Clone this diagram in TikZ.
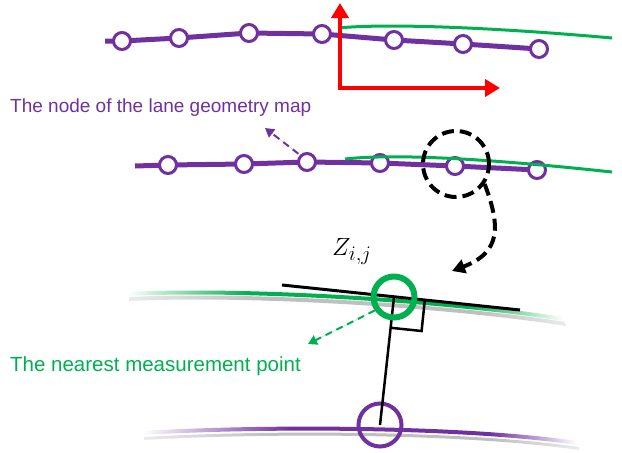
\documentclass[tikz,border=0pt]{standalone}
\usepackage{fontspec}
\setmainfont{Liberation Sans}
\usepackage{tikz}
\usetikzlibrary{positioning,arrows.meta,calc,backgrounds}
\definecolor{lanepurple}{RGB}{112,48,160}
\definecolor{lanegreen}{RGB}{0,176,80}
\definecolor{axisred}{RGB}{255,0,0}
\pgfdeclarehorizontalshading{greenfade}{100bp}{color(0bp)=(white); color(25bp)=(white);
    color(39bp)=(lanegreen); color(64bp)=(lanegreen); color(75bp)=(white); color(100bp)=(white)}
\pgfdeclarehorizontalshading{purplefade}{100bp}{color(0bp)=(white); color(25bp)=(white);
    color(42bp)=(lanepurple); color(65bp)=(lanepurple); color(75bp)=(white); color(100bp)=(white)}
\pgfdeclarehorizontalshading{shadowfade}{100bp}{color(0bp)=(white); color(25bp)=(black!8);
    color(40bp)=(black!25); color(65bp)=(black!25); color(75bp)=(black!8); color(100bp)=(white)}

\begin{document}
\begin{tikzpicture}[
    x=1pt, y=-1pt,
    lanenode/.style={circle, draw=lanepurple, fill=white, line width=3pt,
                     minimum size=17pt, inner sep=0pt},
    chain/.style={draw=lanepurple, line width=5pt},
    meas/.style={draw=lanegreen, line width=3pt},
    redaxis/.style={draw=axisred, line width=4.5pt,
                    {Triangle[length=15pt,width=17pt]}-{Triangle[length=15pt,width=17pt]}},
    zoomring/.style={circle, draw, line width=4pt, dash pattern=on 12pt off 6pt,
                     minimum size=66pt, inner sep=0pt},
    zoomarr/.style={line width=4pt, dash pattern=on 12pt off 6pt,
                    -{Triangle[length=13pt,width=14pt]}},
    hint/.style={line width=2pt, dash pattern=on 7pt off 5pt,
                 -{Triangle[length=9pt,width=10pt]}},
    lbl/.style={font=\fontsize{19}{22}\selectfont, anchor=base west, inner sep=0pt}
]
\useasboundingbox (0,0) rectangle (622,453);

% top lane: map nodes, measurement and vehicle axes
\coordinate (t0) at (105,41);
\foreach \i/\x/\y in {1/122/41, 2/179/38, 3/249/33, 4/322/34, 5/394/40, 6/463/44, 7/539/49}
    \node[lanenode] (t\i) at (\x,\y) {};
\begin{scope}[on background layer]
\draw[chain] (t0) foreach \i in {1,...,7} { -- (t\i.center) };
\end{scope}
\coordinate (tg0) at (338,28);
\coordinate (tg1) at (612,38);
\draw[meas] (tg0) .. controls (390,23) and (500,28) .. (tg1);
\coordinate (orig) at (340,88);
\coordinate (yax) at (340,3);
\coordinate (xax) at (500,88);
\draw[redaxis, line join=miter] (yax) -- (orig) -- (xax);

\node[lbl, text=lanepurple] (maplbl) at (10,112) {The node of the lane geometry map};

% middle lane
\coordinate (m0) at (135,166);
\foreach \i/\x/\y in {1/168/165, 2/244/164, 3/307/162, 4/380/163, 5/455/166, 6/537/170}
    \node[lanenode] (m\i) at (\x,\y) {};
\begin{scope}[on background layer]
\draw[chain] (m0) foreach \i in {1,...,6} { -- (m\i.center) };
\end{scope}
\coordinate (mg0) at (345,159);
\coordinate (mg1) at (612,172);
\draw[meas] (mg0) .. controls (400,153) and (500,160) .. (mg1);
\coordinate (maptip) at (265,128);
\draw[hint, draw=lanepurple, fill=lanepurple, shorten <=2pt] (m3.135) -- (maptip);

\node[zoomring] (ring) at (456,164) {};
\coordinate (ringtip) at (452,271);
\draw[zoomarr] (ring.-35) .. controls (500,225) and (502,252) .. (ringtip);

% zoomed view
\shade[shading=shadowfade]
    (129,297) .. controls (252,291) and (452,304) .. (565,322)
    -- (566,326) .. controls (452,308) and (252,295) .. (129,301) -- cycle;
\shade[shading=greenfade]
    (127,292) .. controls (250,286) and (450,299) .. (563,317)
    -- (563,321) .. controls (450,303) and (250,290) .. (127,296) -- cycle;
\shade[shading=shadowfade]
    (144,437) .. controls (262,430) and (462,430) .. (579,447)
    -- (579,450) .. controls (462,433) and (262,433) .. (144,440) -- cycle;
\shade[shading=purplefade]
    (142,431) .. controls (260,424) and (460,424) .. (577,441)
    -- (577,445) .. controls (460,428) and (260,428) .. (142,435) -- cycle;

\coordinate (tl) at (282,285);
\coordinate (tr) at (520,310);
\coordinate (foot) at (394,297);
\draw[line width=3pt] (tl) -- (tr);
\node[circle, draw=lanepurple, line width=4pt, minimum size=43pt, inner sep=0pt] (lp) at (380,425) {};
\draw[line width=2.5pt] (foot) -- (lp.center);
\draw[line width=2.5pt] ($(foot)+(30.8,3.2)$) -- ++(-3.2,30.8) -- ++(-30.8,-3.2);
\node[circle, draw=lanegreen, line width=6pt, minimum size=41pt, inner sep=0pt] (mp) at (foot) {};

\node[anchor=base west, inner sep=0pt, font=\fontsize{28}{30}\selectfont] (zlbl) at (332,255) {$Z_{i,j}$};

\coordinate (meastip) at (308,344);
\draw[hint, draw=lanegreen, fill=lanegreen] (mp.215) -- (meastip);
\node[lbl, text=lanegreen, font=\fontsize{20.5}{23}\selectfont] (measlbl) at (10,371) {The nearest measurement point};
\end{tikzpicture}
\end{document}
